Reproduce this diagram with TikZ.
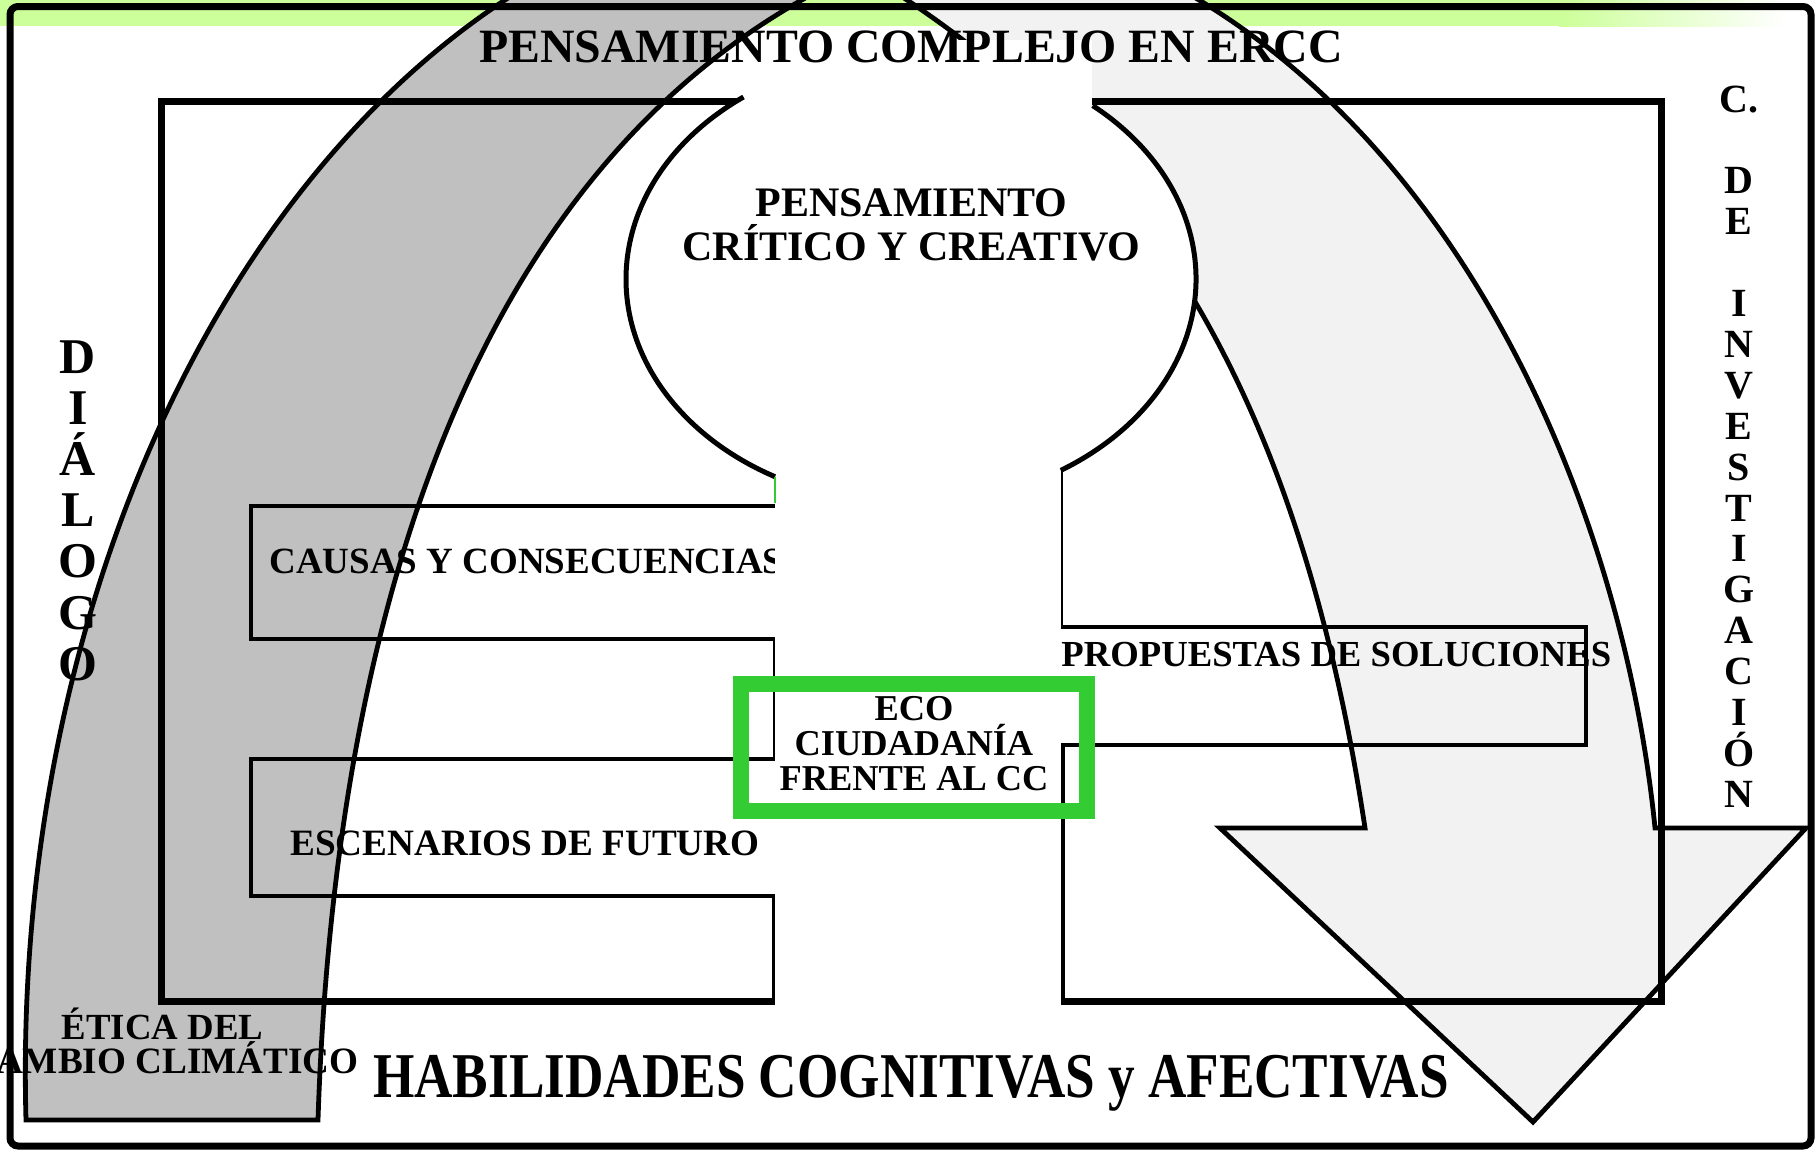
\documentclass[tikz,border=0pt]{standalone}
\usepackage{fontspec}
\setmainfont{Liberation Serif}
\definecolor{bandDark}{RGB}{192,192,192}
\definecolor{bandLight}{RGB}{242,242,242}
\definecolor{topGreen}{RGB}{204,255,153}
\definecolor{boxGreen}{RGB}{51,204,51}
\begin{document}
\begin{tikzpicture}[x=0.5pt,y=-0.5pt,
  band/.style={draw=black, line width=2.4pt, line join=miter},
  frameline/.style={draw=black, line width=3.5pt, line join=miter},
  prongline/.style={draw=black, line width=2.3pt, line join=miter},
  keyline/.style={draw=black, line width=2.5pt},
  lbl/.style={inner sep=0pt, font=\bfseries\fontsize{#1}{#1}\selectfont},
]
\useasboundingbox (0,0) rectangle (1819,1151);
\clip (0,0) rectangle (1819,1151);
% top green band
\fill[topGreen] (0,0) rectangle (1560,26);
\shade[left color=topGreen, right color=white] (1559,0) rectangle (1785,26);
% left (dark) band
\filldraw[band, fill=bandDark] (26,1120) arc[start angle=177.7, end angle=250, x radius=825, y radius=1181]
  -- (878,-40) -- (820,-10) .. controls (480,170) and (335,600) .. (318,1120) -- cycle;
% right (light) band with arrowhead
\filldraw[band, fill=bandLight] (1133,-40) -- (1199,0)
  .. controls (1479.5,170) and (1625,528) .. (1655,828)
  -- (1806,828) -- (1533,1122) -- (1220,828) -- (1365,828)
  .. controls (1297,378) and (1132,150) .. (907,0)
  -- (847,-40) -- cycle;
% left E frame
\draw[frameline] (800,101) -- (161,101) -- (161,1001) -- (775,1001) -- (775,896);
\draw[prongline] (775,896) -- (251,896) -- (251,759) -- (775,759) -- (775,639) -- (251,639) -- (251,506) -- (775,506);
% right E frame
\draw[frameline] (1050,101) -- (1661,101) -- (1661,1001) -- (1061,1001) -- (1061,745);
\draw[prongline] (1061,745) -- (1586,745) -- (1586,627) -- (1061,627) -- (1061,460);
% labels under the keyhole
\node[lbl=18.5, anchor=base west] (causas) at (269,573) {CAUSAS Y CONSECUENCIAS};
\node[lbl=18.35, anchor=base west] (prop) at (1061,666) {PROPUESTAS DE SOLUCIONES};
% keyhole (white)
\fill[white] (911,279) ellipse [x radius=285, y radius=225];
\fill[white] (745,40) rectangle (1092,130);
\fill[white] (775,470) rectangle (1061,1006);
\draw[keyline] (743.5,97) arc[start angle=234, end angle=118.5, x radius=285, y radius=225];
\draw[keyline] (1092.7,105.6) arc[start angle=-50.4, end angle=58.3, x radius=285, y radius=225];
\draw[boxGreen, line width=1pt] (775,477) -- (775,503);
% outer frame
\draw[frameline, rounded corners=4pt] (10,6.5) rectangle (1811,1146);
% central green box
\draw[boxGreen, line width=8pt] (741,683.5) rectangle (1087,811);
% texts
\node[lbl=23.9, anchor=base] (title) at (911,62) {PENSAMIENTO COMPLEJO EN ERCC};
\node[lbl=21, anchor=base] (pc1) at (911.5,216.7) {PENSAMIENTO};
\node[lbl=21, anchor=base] (pc2) at (911.5,260) {CRÍTICO Y CREATIVO};
\node[lbl=18.6, anchor=base west] (escen) at (290,855) {ESCENARIOS DE FUTURO};
\node[lbl=18.2, anchor=base] (eco1) at (914,720) {ECO};
\node[lbl=18.2, anchor=base] (eco2) at (914,755) {CIUDADANÍA};
\node[lbl=18.2, anchor=base] (eco3) at (914,790) {FRENTE AL CC};
\foreach \ch [count=\i] in {D,I,Á,L,O,G,O}
  \node[lbl=25, anchor=base] (dia\i) at (78,{373+51.2*(\i-1)}) {\ch};
\foreach \k/\ch in {0/C.,2/D,3/E,5/I,6/N,7/V,8/E,9/S,10/T,11/I,12/G,13/A,14/C,15/I,16/Ó,17/N}
  \node[lbl=20, anchor=base] (inv\k) at (1739,{112+40.9*\k}) {\ch};
\node[lbl=18.4, anchor=base] (etica1) at (162.5,1039) {ÉTICA DEL};
\node[lbl=18.6, anchor=base] (etica2) at (164,1073) {CAMBIO CLIMÁTICO};
\node[lbl=26.6, anchor=base] (hab) at (911,1097) {\scalebox{1}[1.2]{HABILIDADES COGNITIVAS y AFECTIVAS}};
\end{tikzpicture}
\end{document}
